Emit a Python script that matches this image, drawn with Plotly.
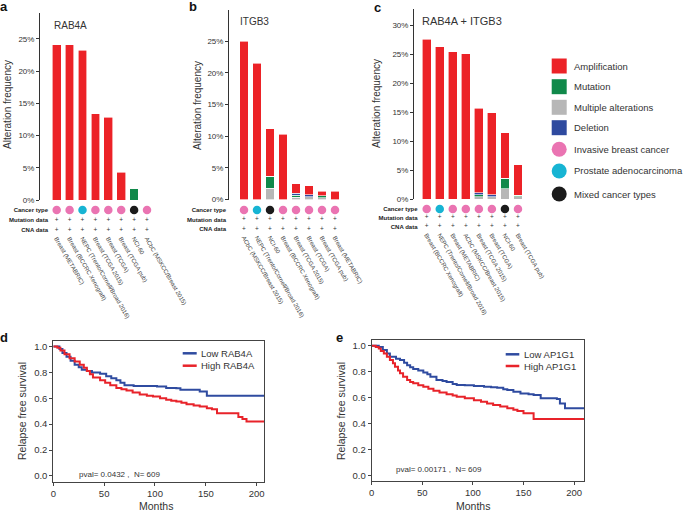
import plotly.graph_objects as go

W, H = 685, 514
FONT = "Liberation Sans, Arial, sans-serif"

# ---------------- data ----------------
a_labels = ["Breast (METABRIC)", "Breast (BCCRC Xenograft)", "NEPC (Trento/Cornell/Broad 2016)",
            "Breast (TCGA 2015)", "Breast (TCGA)", "Breast (TCGA pub)", "NCI-60", "ACbC (MSKCC/Breast 2015)"]
a_multi = [0, 0, 0, 0, 0, 0, 0, 0]
a_mut = [0, 0, 0, 0, 0, 0, 1.8, 0]
a_del = [0, 0, 0, 0, 0, 0, 0, 0]
a_amp = [24.1, 24.1, 23.2, 13.4, 12.8, 4.3, 0, 0]
a_types = ["breast", "breast", "prostate", "breast", "breast", "breast", "mixed", "breast"]

b_labels = ["ACbC (MSKCC/Breast 2015)", "NEPC (Trento/Cornell/Broad 2016)", "NCI-60",
            "Breast (BCCRC Xenograft)", "Breast (TCGA 2015)", "Breast (TCGA)", "Breast (TCGA pub)", "Breast (METABRIC)"]
b_multi = [0, 0, 1.75, 0, 0.35, 0.4, 0.3, 0]
b_mut = [0, 0, 1.95, 0, 0.3, 0, 0.3, 0]
b_del = [0, 0, 0, 0, 0.35, 0.35, 0, 0]
b_amp = [25.0, 21.5, 7.5, 10.3, 1.5, 1.45, 0.7, 1.3]
b_types = ["breast", "prostate", "mixed", "breast", "breast", "breast", "breast", "breast"]

c_labels = ["Breast (BCCRC Xenograft)", "NEPC (Trento/Cornell/Broad 2016)", "Breast (METABRIC)",
            "ACbC (MSKCC/Breast 2015)", "Breast (TCGA 2015)", "Breast (TCGA)", "NCI-60", "Breast (TCGA pub)"]
c_multi = [0, 0, 0, 0, 0.35, 0.4, 1.8, 0.35]
c_mut = [0, 0, 0, 0, 0.35, 0, 1.8, 0.3]
c_del = [0, 0, 0, 0, 0.35, 0.35, 0, 0]
c_amp = [27.6, 26.3, 25.4, 25.1, 14.65, 14.15, 7.8, 5.25]
c_types = ["breast", "prostate", "breast", "breast", "breast", "breast", "mixed", "breast"]

track_rows = ["Cancer type", "Mutation data", "CNA data"]

d_low_t = [0, 6, 9, 13, 17, 21, 25, 28, 33, 38, 46, 52, 57, 62, 66, 70, 79, 102, 111, 121, 125, 144, 151, 209]
d_low_s = [1.0, 0.98, 0.95, 0.92, 0.89, 0.86, 0.84, 0.82, 0.81, 0.80, 0.79, 0.77, 0.755, 0.74, 0.72, 0.70,
           0.695, 0.69, 0.68, 0.678, 0.665, 0.652, 0.62, 0.62]
d_high_t = [0, 4, 7, 11, 16, 21, 26, 30, 33, 36, 39, 46, 51, 56, 62, 67, 72, 78, 85, 92, 98, 105, 111, 116,
            121, 126, 131, 138, 144, 151, 156, 161, 182, 186, 190, 209]
d_high_s = [1.0, 0.99, 0.97, 0.94, 0.91, 0.885, 0.86, 0.835, 0.81, 0.785, 0.76, 0.74, 0.72, 0.70, 0.68, 0.67,
            0.66, 0.645, 0.63, 0.62, 0.613, 0.60, 0.588, 0.58, 0.575, 0.565, 0.554, 0.545, 0.536, 0.523, 0.515,
            0.485, 0.455, 0.44, 0.42, 0.42]

e_low_t = [0, 7, 11, 15, 18, 24, 28, 32, 35, 38, 41, 46, 51, 55, 58, 64, 70, 74, 80, 84, 92, 101, 111, 118,
           124, 130, 134, 140, 147, 155, 160, 167, 183, 186, 191, 210]
e_low_s = [1.0, 0.99, 0.967, 0.94, 0.915, 0.90, 0.89, 0.87, 0.85, 0.835, 0.82, 0.81, 0.794, 0.78, 0.76, 0.735,
           0.728, 0.72, 0.705, 0.697, 0.695, 0.69, 0.684, 0.68, 0.676, 0.665, 0.658, 0.645, 0.632, 0.625, 0.62,
           0.594, 0.589, 0.555, 0.517, 0.517]
e_high_t = [0, 4, 7, 9, 12, 15, 18, 21, 23, 26, 28, 31, 35, 38, 41, 46, 51, 56, 61, 67, 74, 80, 84, 92, 101,
            108, 114, 120, 127, 134, 140, 144, 150, 155, 160, 210]
e_high_s = [1.0, 0.99, 0.98, 0.96, 0.94, 0.915, 0.89, 0.865, 0.838, 0.81, 0.787, 0.76, 0.735, 0.72, 0.71, 0.695,
            0.684, 0.668, 0.653, 0.64, 0.625, 0.615, 0.607, 0.595, 0.58, 0.567, 0.555, 0.542, 0.53, 0.517, 0.505,
            0.496, 0.478, 0.478, 0.435, 0.435]

legend_items = ["Amplification", "Mutation", "Multiple alterations", "Deletion",
                "Invasive breast cancer", "Prostate adenocarcinoma", "Mixed cancer types"]

# ---------------- styles ----------------
RED = "#EC2227"
GREEN = "#10894A"
GRAY = "#B7B7B7"
BLUE = "#2E4A9F"
TYPE_COL = {"breast": "#EA74B2", "prostate": "#17B4D3", "mixed": "#1B1B1B"}
KM_BLUE = "#2F4BA0"
KM_RED = "#E8232A"
TXT = "#333333"


def fx(p):
    return p / W


def fy(p):
    return 1 - p / H


fig = go.Figure()
layout = {}
annotations = []
shapes = []

panels = [
    dict(labels=a_labels, multi=a_multi, mut=a_mut, dele=a_del, amp=a_amp, types=a_types, title="RAB4A",
         axis_px=40, right_px=158, top_px=13, zero_px=200, ymax=29.0, yticks=[0, 5, 10, 15, 20, 25],
         c0=56.7, step=12.9, rows=[210, 220, 230], lab_right=46,
         title_xy=(52, 25), title_size=10, ylab_xy=(8, 105), letter="a", letter_xy=(4, 7)),
    dict(labels=b_labels, multi=b_multi, mut=b_mut, dele=b_del, amp=b_amp, types=b_types, title="ITGB3",
         axis_px=229, right_px=345, top_px=9.5, zero_px=199.5, ymax=30.0, yticks=[0, 5, 10, 15, 20, 25],
         c0=244, step=13.0, rows=[210, 220, 229], lab_right=224,
         title_xy=(238, 22), title_size=10, ylab_xy=(198, 106), letter="b", letter_xy=(193, 7)),
    dict(labels=c_labels, multi=c_multi, mut=c_mut, dele=c_del, amp=c_amp, types=c_types, title="RAB4A + ITGB3",
         axis_px=414, right_px=528, top_px=9, zero_px=199, ymax=32.8, yticks=[0, 5, 10, 15, 20, 25, 30],
         c0=426.7, step=13.04, rows=[209, 217.7, 226.4], lab_right=415.5,
         title_xy=(420, 21.5), title_size=11, ylab_xy=(377, 104), letter="c", letter_xy=(377, 8)),
]

for i, p in enumerate(panels):
    nb = 2 * i + 1
    nt = 2 * i + 2
    xb = "x" if nb == 1 else f"x{nb}"
    yb = "y" if nb == 1 else f"y{nb}"
    xt, yt = f"x{nt}", f"y{nt}"
    kxb = "xaxis" if nb == 1 else f"xaxis{nb}"
    kyb = "yaxis" if nb == 1 else f"yaxis{nb}"
    kxt, kyt = f"xaxis{nt}", f"yaxis{nt}"
    idx = list(range(len(p["labels"])))

    for vals, col in [(p["multi"], GRAY), (p["mut"], GREEN), (p["dele"], BLUE), (p["amp"], RED)]:
        fig.add_trace(go.Bar(x=idx, y=vals, xaxis=xb, yaxis=yb, width=0.68,
                             marker=dict(color=col, line=dict(color="white", width=0.6)),
                             showlegend=False, hoverinfo="skip"))

    fig.add_trace(go.Scatter(x=idx, y=[0] * len(idx), xaxis=xt, yaxis=yt, mode="markers",
                             marker=dict(size=8.5, color=[TYPE_COL[t] for t in p["types"]], line=dict(width=0)),
                             showlegend=False, hoverinfo="skip"))
    fig.add_trace(go.Scatter(x=idx + idx, y=[1] * len(idx) + [2] * len(idx), xaxis=xt, yaxis=yt,
                             mode="text", text=["+"] * (2 * len(idx)),
                             textfont=dict(size=6.5, color=TXT, family=FONT),
                             showlegend=False, hoverinfo="skip"))

    rng = [(p["axis_px"] - p["c0"]) / p["step"], (p["right_px"] - p["c0"]) / p["step"]]
    layout[kxb] = dict(domain=[fx(p["axis_px"]), fx(p["right_px"])], range=rng, visible=False, anchor=yb,
                       automargin=False)
    layout[kyb] = dict(domain=[fy(p["zero_px"]), fy(p["top_px"])], range=[0, p["ymax"]], anchor=xb,
                       showline=True, linecolor=TXT, linewidth=1, ticks="outside", ticklen=3,
                       tickcolor=TXT, tickmode="array", tickvals=p["yticks"],
                       ticktext=[f"{v}%" for v in p["yticks"]], showgrid=False, zeroline=False,
                       automargin=False, tickfont=dict(size=8, color=TXT, family=FONT))
    r = p["rows"]
    s = (r[2] - r[0]) / 2
    top_t, bot_t = r[0] - 6, r[2] + 3
    tx0 = p["lab_right"] + 3
    rng_t = [(tx0 - p["c0"]) / p["step"], (p["right_px"] - p["c0"]) / p["step"]]
    layout[kxt] = dict(domain=[fx(tx0), fx(p["right_px"])], range=rng_t, anchor=yt, side="bottom",
                       tickmode="array", tickvals=idx, ticktext=p["labels"], tickangle=60, ticks="",
                       showline=False, showgrid=False, zeroline=False, automargin=False,
                       tickfont=dict(size=6, color="#444", family=FONT))
    layout[kyt] = dict(domain=[fy(bot_t), fy(top_t)], range=[2 + 3 / s, -6 / s], anchor=xt,
                       tickmode="array", tickvals=[0, 1, 2], ticktext=[f"<b>{t}</b>" for t in track_rows],
                       ticks="", showline=False, showgrid=False, zeroline=False, automargin=False,
                       tickfont=dict(size=6, color="#222", family=FONT))

    annotations.append(dict(x=fx(p["title_xy"][0]), y=fy(p["title_xy"][1]), xref="paper", yref="paper",
                            text=p["title"], showarrow=False, xanchor="left", yanchor="middle",
                            font=dict(size=p["title_size"], color=TXT, family=FONT)))
    annotations.append(dict(x=fx(p["ylab_xy"][0]), y=fy(p["ylab_xy"][1]), xref="paper", yref="paper",
                            text="Alteration frequency", showarrow=False, textangle=-90,
                            xanchor="center", yanchor="middle",
                            font=dict(size=10, color=TXT, family=FONT)))
    annotations.append(dict(x=fx(p["letter_xy"][0]), y=fy(p["letter_xy"][1]), xref="paper", yref="paper",
                            text=f"<b>{p['letter']}</b>", showarrow=False, xanchor="center", yanchor="middle",
                            font=dict(size=13, color="#111", family=FONT)))

# ---------------- KM panels ----------------
km = [
    dict(n=7, low=(d_low_t, d_low_s), high=(d_high_t, d_high_s), dom_x=(53.3, 264.3), dom_y=(340.7, 481.7),
         xmax=207.5, low_name="Low RAB4A", high_name="High RAB4A", pval="pval= 0.0432 ,  N= 609",
         pval_xy=(77, 474), leg_x=(182.7, 196.7, 199), leg_y=(353.3, 365.7), months_xy=(156, 506),
         ylab_xy=(22, 411), letter="d", letter_xy=(4, 337)),
    dict(n=8, low=(e_low_t, e_low_s), high=(e_high_t, e_high_s), dom_x=(371.7, 584), dom_y=(340, 481),
         xmax=209.8, low_name="Low AP1G1", high_name="High AP1G1", pval="pval= 0.00171 ,  N= 609",
         pval_xy=(394, 469), leg_x=(505.7, 519.3, 521.7), leg_y=(354.3, 366), months_xy=(472.5, 506),
         ylab_xy=(341, 411), letter="e", letter_xy=(339, 337.5)),
]

for k in km:
    n = k["n"]
    xa, ya = f"x{n}", f"y{n}"
    fig.add_trace(go.Scatter(x=k["low"][0], y=k["low"][1], xaxis=xa, yaxis=ya, mode="lines",
                             line=dict(color=KM_BLUE, width=2, shape="hv"), showlegend=False, hoverinfo="skip"))
    fig.add_trace(go.Scatter(x=k["high"][0], y=k["high"][1], xaxis=xa, yaxis=ya, mode="lines",
                             line=dict(color=KM_RED, width=2, shape="hv"), showlegend=False, hoverinfo="skip"))
    layout[f"xaxis{n}"] = dict(domain=[fx(k["dom_x"][0]), fx(k["dom_x"][1])], range=[0, k["xmax"]], anchor=ya,
                               tickmode="array", tickvals=[0, 50, 100, 150, 200], ticks="outside", ticklen=3,
                               tickcolor="#444", showline=True, mirror=True, linecolor="#444", linewidth=1,
                               showgrid=False, zeroline=False, automargin=False,
                               tickfont=dict(size=9.5, color=TXT, family=FONT))
    layout[f"yaxis{n}"] = dict(domain=[fy(k["dom_y"][1]), fy(k["dom_y"][0])], range=[-0.045, 1.045], anchor=xa,
                               tickmode="array", tickvals=[0, 0.2, 0.4, 0.6, 0.8, 1.0],
                               ticktext=["0.0", "0.2", "0.4", "0.6", "0.8", "1.0"], ticks="outside",
                               ticklen=3, tickcolor="#444", showline=True, mirror=True, linecolor="#444",
                               linewidth=1, showgrid=False, zeroline=False, automargin=False,
                               tickfont=dict(size=9.5, color=TXT, family=FONT))
    lx0, lx1, tx = k["leg_x"]
    for yy, col, name in [(k["leg_y"][0], KM_BLUE, k["low_name"]), (k["leg_y"][1], KM_RED, k["high_name"])]:
        shapes.append(dict(type="line", xref="paper", yref="paper", x0=fx(lx0), x1=fx(lx1), y0=fy(yy), y1=fy(yy),
                           line=dict(color=col, width=2.5)))
        annotations.append(dict(x=fx(tx), y=fy(yy), xref="paper", yref="paper", text=name, showarrow=False,
                                xanchor="left", yanchor="middle", font=dict(size=9.5, color=TXT, family=FONT)))
    annotations.append(dict(x=fx(k["pval_xy"][0]), y=fy(k["pval_xy"][1]), xref="paper", yref="paper",
                            text=k["pval"], showarrow=False, xanchor="left", yanchor="middle",
                            font=dict(size=8, color=TXT, family=FONT)))
    annotations.append(dict(x=fx(k["months_xy"][0]), y=fy(k["months_xy"][1]), xref="paper", yref="paper",
                            text="Months", showarrow=False, xanchor="center", yanchor="middle",
                            font=dict(size=10.5, color=TXT, family=FONT)))
    annotations.append(dict(x=fx(k["ylab_xy"][0]), y=fy(k["ylab_xy"][1]), xref="paper", yref="paper",
                            text="Relapse free survival", showarrow=False, textangle=-90,
                            xanchor="center", yanchor="middle", font=dict(size=10.5, color=TXT, family=FONT)))
    annotations.append(dict(x=fx(k["letter_xy"][0]), y=fy(k["letter_xy"][1]), xref="paper", yref="paper",
                            text=f"<b>{k['letter']}</b>", showarrow=False, xanchor="center", yanchor="middle",
                            font=dict(size=13, color="#111", family=FONT)))

# ---------------- right legend ----------------
leg_cols = [RED, GREEN, GRAY, BLUE, TYPE_COL["breast"], TYPE_COL["prostate"], TYPE_COL["mixed"]]
leg_y = [66, 86.7, 107.3, 127.7, 149.3, 171, 194]
for j, (name, col, yy) in enumerate(zip(legend_items, leg_cols, leg_y)):
    shapes.append(dict(type="rect" if j < 4 else "circle", xref="paper", yref="paper",
                       x0=fx(551.7), x1=fx(566.7), y0=fy(yy + 7.5), y1=fy(yy - 7.5),
                       fillcolor=col, line=dict(width=0)))
    annotations.append(dict(x=fx(572), y=fy(yy), xref="paper", yref="paper", text=name, showarrow=False,
                            xanchor="left", yanchor="middle", font=dict(size=9.5, color=TXT, family=FONT)))

fig.update_layout(template="none")
fig.update_layout(**layout)
fig.update_layout(width=W, height=H, autosize=False, margin=dict(l=0, r=0, t=0, b=0, pad=0, autoexpand=False),
                  barmode="stack", bargap=0.3, paper_bgcolor="white", plot_bgcolor="white",
                  annotations=annotations, shapes=shapes, font=dict(family=FONT, color=TXT), showlegend=False)

post = ("document.body.style.margin='0';document.body.style.padding='0';"
        "document.body.style.overflow='hidden';")
fig.write_html("out.html", config={"responsive": False, "displayModeBar": False}, post_script=post)
